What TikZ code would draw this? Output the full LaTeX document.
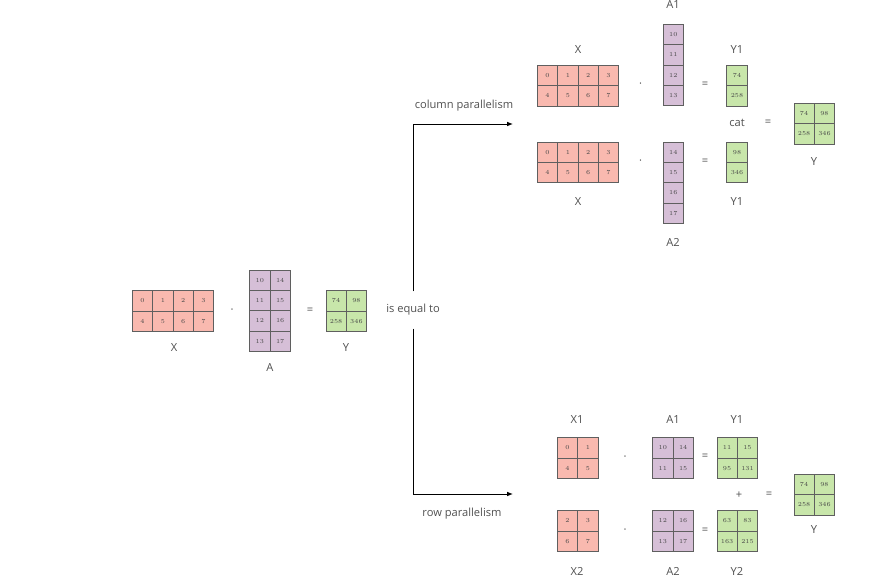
\documentclass[tikz,border=0pt]{standalone}
\usepackage{fontspec}
\setsansfont{Open Sans}
\usetikzlibrary{arrows.meta,matrix,positioning}

\definecolor{xpink}{RGB}{249,185,175}
\definecolor{apurple}{RGB}{214,191,215}
\definecolor{ygreen}{RGB}{200,230,170}
\definecolor{cellline}{RGB}{95,95,95}
\definecolor{numgray}{RGB}{70,70,70}
\definecolor{labelgray}{RGB}{80,80,80}

\tikzset{
  cellmat/.style={matrix of nodes,inner sep=0pt,column sep=-0.8pt,row sep=-0.8pt,
    nodes={draw=cellline,line width=0.8pt,minimum size=0.61cm,inner sep=0pt,anchor=center,
      text height=3.6pt,text depth=0pt,
      font=\fontsize{5.2}{6}\selectfont,text=numgray}},
  xmat/.style={cellmat,nodes={fill=xpink}},
  amat/.style={cellmat,nodes={fill=apurple}},
  ymat/.style={cellmat,nodes={fill=ygreen}},
  matlabel/.style={font=\sffamily\fontsize{9.5}{11}\selectfont,text=labelgray,inner sep=0pt},
  opsign/.style={font=\sffamily\fontsize{9.5}{11}\selectfont,text=labelgray,inner sep=0pt},
  conn/.style={line width=0.8pt,-{Latex[length=5pt,width=4pt]},shorten <=8pt}
}

\begin{document}
\begin{tikzpicture}[x=0.03cm,y=-0.03cm]
  \useasboundingbox (0,0) rectangle (869,581);

  % X . A = Y
  \matrix (X) [xmat] at (173,311) {0 & 1 & 2 & 3\\ 4 & 5 & 6 & 7\\};
  \matrix (A) [amat] at (270,310.7) {10 & 14\\ 11 & 15\\ 12 & 16\\ 13 & 17\\};
  \matrix (Y) [ymat] at (346.3,311) {74 & 98\\ 258 & 346\\};
  \node[matlabel] (Xname) at (174,348) {X};
  \node[matlabel] (Aname) at (270,368) {A};
  \node[matlabel] (Yname) at (346,348) {Y};
  \node[opsign] (dot0) at (232,311) {·};
  \node[opsign] (eq0) at (310,311) {=};
  \node[matlabel,inner sep=3pt] (iseq) at (413,310) {is equal to};

  % column parallelism
  \matrix (colX1) [xmat] at (578,85.7) {0 & 1 & 2 & 3\\ 4 & 5 & 6 & 7\\};
  \matrix (colA1) [amat] at (673.3,65) {10\\ 11\\ 12\\ 13\\};
  \matrix (colY1) [ymat] at (737,85.7) {74\\ 258\\};
  \matrix (colX2) [xmat] at (578,162.3) {0 & 1 & 2 & 3\\ 4 & 5 & 6 & 7\\};
  \matrix (colA2) [amat] at (673.3,182.7) {14\\ 15\\ 16\\ 17\\};
  \matrix (colY2) [ymat] at (737,162.3) {98\\ 346\\};
  \matrix (colY) [ymat] at (814.3,123.7) {74 & 98\\ 258 & 346\\};
  \node[matlabel] (colX1name) at (578,50) {X};
  \node[matlabel] (colA1name) at (673,5) {A1};
  \node[matlabel] (colY1name) at (737,50) {Y1};
  \node[matlabel] (colX2name) at (578,202) {X};
  \node[matlabel] (colA2name) at (673,242) {A2};
  \node[matlabel] (colY2name) at (737,202) {Y1};
  \node[matlabel] (colYname) at (814,162) {Y};
  \node[opsign] (coldot1) at (640.7,85) {·};
  \node[opsign] (coleq1) at (705,85) {=};
  \node[opsign] (coldot2) at (640.7,162) {·};
  \node[opsign] (coleq2) at (705,162) {=};
  \node[opsign] (colcat) at (737,123) {cat};
  \node[opsign] (coleq) at (768,123) {=};
  \node[matlabel] (colname) at (464,106) {column parallelism};

  % row parallelism
  \matrix (rowX1) [xmat] at (577.7,458) {0 & 1\\ 4 & 5\\};
  \matrix (rowA1) [amat] at (673,458) {10 & 14\\ 11 & 15\\};
  \matrix (rowY1) [ymat] at (737.3,458) {11 & 15\\ 95 & 131\\};
  \matrix (rowX2) [xmat] at (577.7,531) {2 & 3\\ 6 & 7\\};
  \matrix (rowA2) [amat] at (673,531) {12 & 16\\ 13 & 17\\};
  \matrix (rowY2) [ymat] at (737.3,531) {63 & 83\\ 163 & 215\\};
  \matrix (rowY) [ymat] at (814.3,494.7) {74 & 98\\ 258 & 346\\};
  \node[matlabel] (rowX1name) at (577,420) {X1};
  \node[matlabel] (rowA1name) at (673,420) {A1};
  \node[matlabel] (rowY1name) at (737,420) {Y1};
  \node[matlabel] (rowX2name) at (577,571) {X2};
  \node[matlabel] (rowA2name) at (673,571) {A2};
  \node[matlabel] (rowY2name) at (737,571) {Y2};
  \node[matlabel] (rowYname) at (814,530) {Y};
  \node[opsign] (rowdot1) at (625,458) {·};
  \node[opsign] (roweq1) at (705,457) {=};
  \node[opsign] (rowdot2) at (625,531) {·};
  \node[opsign] (roweq2) at (705,531) {=};
  \node[opsign] (rowplus) at (739,495) {+};
  \node[opsign] (roweq) at (769,495) {=};
  \node[matlabel] (rowname) at (462,514) {row parallelism};

  % arrows
  \coordinate (colTip) at (513,124);
  \coordinate (rowTip) at (513,494);
  \draw[conn] (iseq.north) |- (colTip);
  \draw[conn] (iseq.south) |- (rowTip);
\end{tikzpicture}
\end{document}
